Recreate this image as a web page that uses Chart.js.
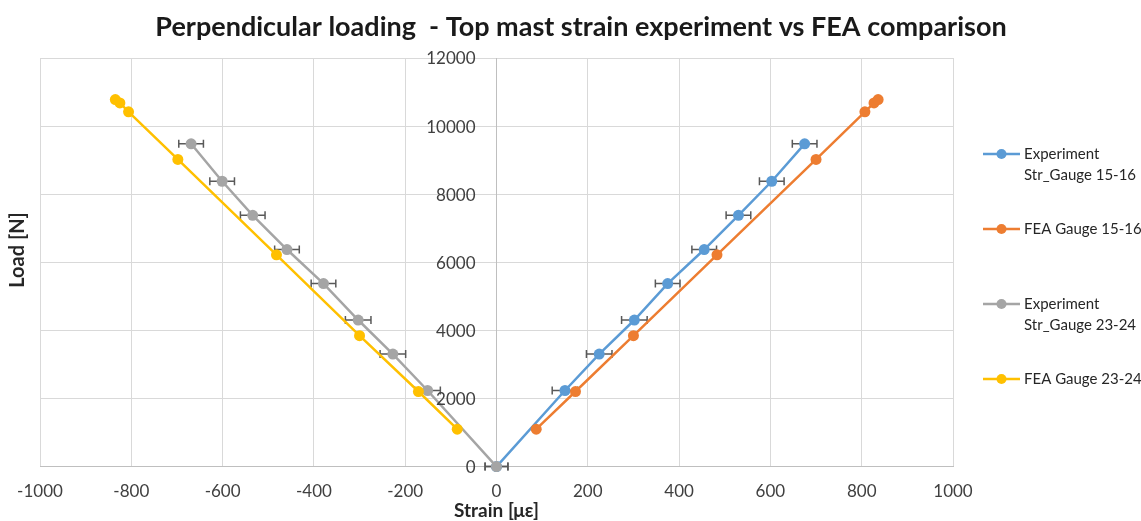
<!DOCTYPE html>
<html>
<head>
<meta charset="utf-8">
<script src="https://cdn.jsdelivr.net/npm/chart.js@4.4.1/dist/chart.umd.min.js"></script>
<style>
  html, body { margin: 0; padding: 0; background: #ffffff; }
  #wrap { width: 1141px; height: 521px; position: relative; }
</style>
</head>
<body>
<div id="wrap"><canvas id="chart" width="1141" height="521"></canvas></div>
<script>
// ---- text ----
const chartTitle = 'Perpendicular loading  - Top mast strain experiment vs FEA comparison';
const xAxisTitle = 'Strain [με]';
const yAxisTitle = 'Load [N]';
const seriesNames = [
  ['Experiment', 'Str_Gauge 15-16'],
  ['FEA Gauge 15-16'],
  ['Experiment', 'Str_Gauge 23-24'],
  ['FEA Gauge 23-24']
];

// ---- tick labels ----
const strainTicks = [-1000, -800, -600, -400, -200, 0, 200, 400, 600, 800, 1000];
const loadTicks = [0, 2000, 4000, 6000, 8000, 10000, 12000];

// ---- experiment (load [N], strain [µε], strain error [µε]) ----
const expLoad       = [0, 2235, 3305, 4305, 5375, 6375, 7380, 8380, 9480];
const expStrain1516 = [0, 150, 225, 302, 375, 455, 530, 603, 675];
const expStrain2324 = [0, -151, -227, -303, -379, -459, -534, -601, -669];
const expStrainErr  = [25, 28, 28, 28, 27, 27, 27, 27, 27];

// ---- FEA (load [N], strain [µε]) ----
const feaLoad       = [1100, 2205, 3845, 6220, 9020, 10420, 10680, 10780];
const feaStrain1516 = [87, 173, 300, 483, 700, 807, 827, 836];
const feaStrain2324 = [-86, -171, -300, -482, -698, -806, -825, -835];

const colors = ['#5B9BD5', '#ED7D31', '#A5A5A5', '#FFC000'];
const FONT = 'Lato, "Open Sans", sans-serif';

function pts(xs, ys) { return xs.map((x, i) => ({ x: x, y: ys[i] })); }

function series(idx, data, errors) {
  return {
    label: seriesNames[idx].join(' '),
    data: data,
    errors: errors || null,
    showLine: true,
    borderColor: colors[idx],
    backgroundColor: colors[idx],
    pointBackgroundColor: colors[idx],
    pointBorderColor: colors[idx],
    borderWidth: 2.5,
    pointRadius: 5.5,
    pointBorderWidth: 0,
    pointHoverRadius: 5.5,
    clip: false,
    order: 4 - idx
  };
}

// horizontal strain error bars, drawn under the lines and markers
const errorBars = {
  id: 'errorBars',
  beforeDatasetsDraw(chart) {
    const ctx = chart.ctx, xs = chart.scales.x, ys = chart.scales.y;
    ctx.save();
    ctx.strokeStyle = '#595959';
    ctx.lineWidth = 1.5;
    chart.data.datasets.forEach(ds => {
      if (!ds.errors) return;
      ds.data.forEach((p, i) => {
        const e = ds.errors[i];
        const y = ys.getPixelForValue(p.y);
        const x0 = xs.getPixelForValue(p.x - e);
        const x1 = xs.getPixelForValue(p.x + e);
        ctx.beginPath();
        ctx.moveTo(x0, y); ctx.lineTo(x1, y);
        ctx.moveTo(x0, y - 4); ctx.lineTo(x0, y + 4);
        ctx.moveTo(x1, y - 4); ctx.lineTo(x1, y + 4);
        ctx.stroke();
      });
    });
    ctx.restore();
  }
};

// load tick labels sit just left of the vertical axis that crosses at strain 0
const loadLabels = {
  id: 'loadLabels',
  afterDraw(chart) {
    const ctx = chart.ctx, xs = chart.scales.x, ys = chart.scales.y;
    ctx.save();
    ctx.fillStyle = '#404040';
    ctx.font = '17px ' + FONT;
    ctx.textAlign = 'right';
    ctx.textBaseline = 'middle';
    const x = xs.getPixelForValue(0) - 21;
    loadTicks.forEach(v => ctx.fillText(String(v), x, ys.getPixelForValue(v) + 1));
    ctx.restore();
  }
};

// title, axis titles and the legend column on the right
const decorations = {
  id: 'decorations',
  afterDraw(chart) {
    const ctx = chart.ctx, area = chart.chartArea;
    ctx.save();
    ctx.fillStyle = '#1a1a1a';
    ctx.textBaseline = 'middle';
    ctx.textAlign = 'center';
    ctx.font = 'bold 27px ' + FONT;
    ctx.fillText(chartTitle, 581, 27);

    ctx.fillStyle = '#262626';
    ctx.font = 'bold 19px ' + FONT;
    ctx.fillText(xAxisTitle, (area.left + area.right) / 2, 511);

    ctx.save();
    ctx.font = 'bold 20px ' + FONT;
    ctx.translate(18, 250);
    ctx.rotate(-Math.PI / 2);
    ctx.fillText(yAxisTitle, 0, 0);
    ctx.restore();

    // legend
    const rows = [154, 229, 304, 379];
    ctx.textAlign = 'left';
    ctx.font = '15px ' + FONT;
    seriesNames.forEach((lines, i) => {
      const y = rows[i];
      ctx.strokeStyle = colors[i];
      ctx.lineWidth = 2.5;
      ctx.beginPath();
      ctx.moveTo(983, y); ctx.lineTo(1020, y);
      ctx.stroke();
      ctx.fillStyle = colors[i];
      ctx.beginPath();
      ctx.arc(1001.5, y, 5, 0, Math.PI * 2);
      ctx.fill();
      ctx.fillStyle = '#262626';
      lines.forEach((t, k) => ctx.fillText(t, 1024, y + k * 21));
    });
    ctx.restore();
  }
};

function build() {
  new Chart(document.getElementById('chart'), {
    type: 'scatter',
    data: {
      datasets: [
        series(0, pts(expStrain1516, expLoad), expStrainErr),
        series(1, pts(feaStrain1516, feaLoad)),
        series(2, pts(expStrain2324, expLoad), expStrainErr),
        series(3, pts(feaStrain2324, feaLoad))
      ]
    },
    options: {
      responsive: false,
      animation: false,
      events: [],
      layout: { padding: { top: 58, left: 40, right: 188, bottom: 4 } },
      plugins: { legend: { display: false }, title: { display: false }, tooltip: { enabled: false } },
      scales: {
        x: {
          type: 'linear',
          position: 'bottom',
          min: -1000, max: 1000,
          afterBuildTicks: s => { s.ticks = strainTicks.map(v => ({ value: v })); },
          grid: { color: '#d9d9d9', lineWidth: 1, drawTicks: false },
          border: { color: '#bfbfbf', width: 1 },
          ticks: { padding: 15, color: '#404040', font: { family: FONT, size: 17 }, callback: v => String(v), maxRotation: 0 }
        },
        y: {
          type: 'linear',
          position: { x: 0 },
          min: 0, max: 12000,
          afterBuildTicks: s => { s.ticks = loadTicks.map(v => ({ value: v })); },
          grid: { color: '#d9d9d9', lineWidth: 1, drawTicks: false },
          border: { color: '#bfbfbf', width: 1 },
          ticks: { display: false }
        }
      }
    },
    plugins: [errorBars, loadLabels, decorations]
  });
}

const fontLoads = ['15px Lato', 'bold 19px Lato', 'bold 27px Lato', '17px Lato'].map(f => document.fonts.load(f, 'Aμε0'));
Promise.all(fontLoads).then(build, build);
</script>
</body>
</html>
